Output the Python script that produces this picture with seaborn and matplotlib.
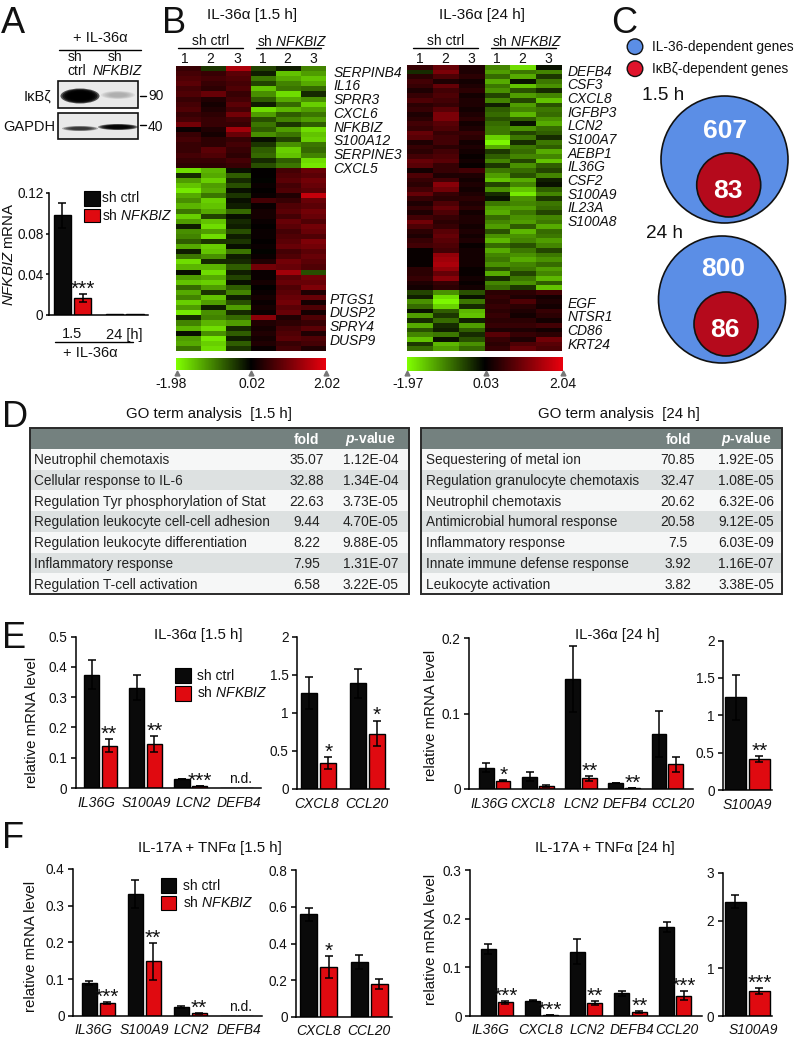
import numpy as np
import pandas as pd
import matplotlib
matplotlib.use('Agg')
import matplotlib.pyplot as plt
import seaborn as sns
from matplotlib.colors import LinearSegmentedColormap
from matplotlib.patches import Rectangle, Circle, Ellipse

sns.set_style('white')
plt.rcParams['font.family'] = ['Liberation Sans', 'DejaVu Sans']
plt.rcParams['mathtext.fontset'] = 'custom'
plt.rcParams['mathtext.it'] = 'Liberation Sans:italic'
plt.rcParams['mathtext.rm'] = 'Liberation Sans'
plt.rcParams['mathtext.bf'] = 'Liberation Sans:bold:italic'

W, H = 796, 1046

# heatmap values, read row by row (ctrl 1-3, shNFKBIZ 1-3)
h15_rows = [
    [.5, -.4, 1.5, -.5, -.2, -1.0],
    [.6, .5, .8, -.2, -1.5, -1.2],
    [.7, .6, .7, -.9, -1.3, -1.5],
    [.8, .5, .6, -.5, -1.0, -1.3],
    [.6, .4, .7, -1.5, -.9, -.8],
    [.7, .9, .5, -1.1, -1.7, -.3],
    [.5, .3, .6, -.7, -1.3, -1.1],
    [.6, .2, .8, -.2, -.8, -1.6],
    [.7, .3, .6, -1.7, -1.4, -1.2],
    [.5, .4, 1.0, -1.2, -.7, -.9],
    [.6, .5, .6, -.6, -1.0, -1.2],
    [1.0, .5, .5, -.9, -.4, -.7],
    [.1, .3, 1.4, -.7, -1.2, -1.7],
    [.5, .2, .9, -1.1, -.9, -1.5],
    [.6, .4, .5, -.1, -.5, -1.6],
    [.5, .4, .6, -.4, -1.1, -.9],
    [.5, .8, .5, -.7, -1.6, -.8],
    [.6, .7, .4, -.8, -1.5, -1.0],
    [.5, .5, .6, -.3, -.7, -1.7],
    [.4, .4, .5, -.6, -.9, -1.8],
    [-1.7, -1.4, -.1, .05, .6, .9],
    [-.3, -1.3, -.7, .05, .7, .8],
    [-1.2, -1.6, -.3, .0, .8, 1.0],
    [-1.5, -1.2, -.6, .1, .6, .9],
    [-1.8, -1.3, -.1, .05, .7, .8],
    [-1.3, -.9, -.4, .1, .3, 1.7],
    [-1.1, -1.6, -.1, .6, .5, .9],
    [-1.4, -1.5, -.2, .1, .7, .8],
    [-.9, -1.3, -.8, .2, .8, 1.0],
    [-1.6, -.5, -.1, .2, .6, .9],
    [-1.2, -1.5, -.3, .1, .9, .7],
    [-.2, -1.7, -.2, .05, .8, 1.0],
    [-1.1, -1.2, -.6, .1, .6, .9],
    [-1.0, -1.7, -.2, .1, .7, .7],
    [-.7, -.4, -.4, .05, .8, 1.1],
    [-1.3, -1.6, -.1, .1, .9, 1.0],
    [-.2, -1.5, -.9, .0, .6, .8],
    [-.9, -1.1, -.2, .1, .7, .9],
    [-1.7, -.3, -.3, .3, 1.0, .8],
    [-1.4, -1.4, -.7, 1.0, .9, .7],
    [-.1, -1.7, -.2, .1, 1.4, -.6],
    [-1.2, -1.3, -.5, .1, .8, 1.0],
    [-1.5, -1.6, -.1, .2, .9, .9],
    [-.8, -1.2, -.7, .05, .7, 1.1],
    [-1.3, -.4, -1.0, .1, .8, .3],
    [-1.0, -1.5, -.2, .2, .9, .9],
    [-1.6, -1.2, -.6, .1, 1.0, .2],
    [-1.2, -.2, -1.2, .2, .8, .7],
    [-1.8, -1.1, -.3, .1, .9, .2],
    [-.3, -1.0, -.8, 1.2, .3, .7],
    [-1.0, -1.4, -1.2, .3, .4, .5],
    [-1.4, -1.7, -.3, .2, .6, .8],
    [-.1, -1.1, -.7, .3, .7, .3],
    [-1.2, -1.8, -.2, .2, .8, .7],
    [-1.3, -1.6, -.7, .3, .5, .6],
    [-.9, -1.7, -.4, .1, .6, .3],
]

h24_rows = [
    [.5, .9, .3, -1.0, -1.7, -.1],
    [-.3, 1.1, .3, -1.2, -.9, -1.0],
    [.4, .7, .4, -.8, -1.3, -.4],
    [.6, .3, .2, -1.3, -.1, -.9],
    [.5, .9, .3, -.9, -1.5, -1.1],
    [.3, .6, .4, -1.1, -.6, -.3],
    [.5, .7, .2, -.5, -1.2, -1.0],
    [.7, .6, .3, -1.0, -.5, -1.5],
    [.4, .5, .3, -.2, -1.2, -.6],
    [.5, .8, .2, -.7, -1.0, -.9],
    [.3, 1.1, .3, -.8, -1.4, -.8],
    [.4, 1.1, .4, -.6, -.7, -1.1],
    [.6, .8, .2, -.8, -.1, -1.3],
    [.5, .7, .3, -.9, -1.1, -.8],
    [.9, .5, .5, -.9, -.5, -.7],
    [.8, .6, .4, -1.6, -.9, -.3],
    [.3, .6, .2, -1.9, -.3, -.9],
    [.5, .4, .3, -1.3, -.9, -.7],
    [.4, .6, .2, -.4, -.8, -1.3],
    [.6, .7, .1, -.7, -1.0, -1.0],
    [.9, .8, .2, -1.0, -.5, -1.5],
    [.8, .5, .1, -.4, -1.1, -.7],
    [.2, .5, .6, -.9, -.8, -.5],
    [.7, .3, .3, -1.2, -.6, -1.0],
    [.5, .6, .2, -1.5, -1.3, -.2],
    [.4, 1.2, .3, -.5, -1.0, -.1],
    [.6, 1.0, .2, -1.1, -1.5, -.7],
    [.9, .5, .3, -.3, -1.8, -1.0],
    [.5, .4, .4, -.1, -1.1, -.4],
    [.3, .7, .3, -.9, -1.0, -.9],
    [.5, .9, .4, -1.2, -1.2, -.8],
    [.3, .7, .2, -1.3, -.9, -.5],
    [.6, .5, .3, -.8, -1.1, -1.0],
    [1.0, .4, .3, -1.0, -1.2, -.9],
    [.7, .5, .2, -1.2, -.7, -1.3],
    [.4, .8, .3, -.6, -1.4, -.8],
    [.3, .9, .2, -1.1, -1.1, -.9],
    [.5, .8, .3, -1.4, -1.0, -1.2],
    [.6, .7, .1, -.8, -.6, -1.0],
    [.1, .6, .2, -1.3, -.9, -.5],
    [.1, 1.3, .2, -1.0, -1.1, -.9],
    [.1, 1.4, .2, -.9, -1.3, -1.1],
    [.1, 1.5, .2, -1.1, -1.0, -.8],
    [.4, 1.3, .1, -.6, -.9, -1.2],
    [.4, .9, .1, -1.3, -.5, -1.0],
    [.5, 1.2, .2, -.3, -.9, -1.4],
    [.3, .5, .1, -1.0, -1.1, -.7],
    [.2, .4, .2, -.8, -.4, -1.5],
    [-.5, -1.1, -.6, .4, .4, .6],
    [-.2, -1.7, -.1, .5, .3, .2],
    [-1.1, -1.9, -.9, .4, .7, .3],
    [-.8, -1.6, -.3, .5, .4, .2],
    [-.1, -.7, -1.4, .4, .3, .5],
    [-1.2, -.4, -1.5, .5, .2, .4],
    [-.3, -.8, -.2, .4, .4, .2],
    [-1.3, -.3, -1.2, .5, .5, .6],
    [-.6, -.2, -.7, .3, .3, .2],
    [-1.0, -.9, -.3, .8, .5, .4],
    [-1.5, -.1, -.6, .5, .3, 1.0],
    [-.4, -1.4, -1.1, .4, .7, .8],
    [-.8, -1.2, -.8, .5, .9, .7],
]

h15_scale = [-1.98, 0.02, 2.02]
h24_scale = [-1.97, 0.03, 2.04]
h15_genes_up = ['SERPINB4', 'IL16', 'SPRR3', 'CXCL6', 'NFKBIZ', 'S100A12', 'SERPINE3', 'CXCL5']
h15_genes_down = ['PTGS1', 'DUSP2', 'SPRY4', 'DUSP9']
h24_genes_up = ['DEFB4', 'CSF3', 'CXCL8', 'IGFBP3', 'LCN2', 'S100A7', 'AEBP1', 'IL36G',
                'CSF2', 'S100A9', 'IL23A', 'S100A8']
h24_genes_down = ['EGF', 'NTSR1', 'CD86', 'KRT24']

go_15_terms = ['Neutrophil chemotaxis', 'Cellular response to IL-6',
               'Regulation Tyr phosphorylation of Stat', 'Regulation leukocyte cell-cell adhesion',
               'Regulation leukocyte differentiation', 'Inflammatory response',
               'Regulation T-cell activation']
go_15_fold = ['35.07', '32.88', '22.63', '9.44', '8.22', '7.95', '6.58']
go_15_p = ['1.12E-04', '1.34E-04', '3.73E-05', '4.70E-05', '9.88E-05', '1.31E-07', '3.22E-05']
go_24_terms = ['Sequestering of metal ion', 'Regulation granulocyte chemotaxis',
               'Neutrophil chemotaxis', 'Antimicrobial humoral response',
               'Inflammatory response', 'Innate immune defense response', 'Leukocyte activation']
go_24_fold = ['70.85', '32.47', '20.62', '20.58', '7.5', '3.92', '3.82']
go_24_p = ['1.92E-05', '1.08E-05', '6.32E-06', '9.12E-05', '6.03E-09', '1.16E-07', '3.38E-05']

# qPCR bars
a_times = ['1.5', '24 [h]']
a_ctrl, a_ctrl_err = [.098, .001], [.012, 0]
a_kd, a_kd_err = [.017, .001], [.004, 0]
a_stars = ['***', '']

e1_genes = ['IL36G', 'S100A9', 'LCN2', 'DEFB4']
e1_ctrl, e1_ctrl_err = [.375, .332, .03, 0], [.047, .04, .001, 0]
e1_kd, e1_kd_err = [.14, .145, .006, 0], [.022, .027, .001, 0]
e1_stars = ['**', '**', '***', '']

e2_genes = ['CXCL8', 'CCL20']
e2_ctrl, e2_ctrl_err = [1.26, 1.39], [.21, .19]
e2_kd, e2_kd_err = [.34, .73], [.08, .17]
e2_stars = ['*', '*']

e3_genes = ['IL36G', 'CXCL8', 'LCN2', 'DEFB4', 'CCL20']
e3_ctrl, e3_ctrl_err = [.028, .016, .146, .008, .073], [.006, .006, .044, .0005, .03]
e3_kd, e3_kd_err = [.011, .004, .014, .001, .033], [.001, .001, .003, .0002, .01]
e3_stars = ['*', '', '**', '**', '']

e4_genes = ['S100A9']
e4_ctrl, e4_ctrl_err = [1.24], [.3]
e4_kd, e4_kd_err = [.41], [.04]
e4_stars = ['**']

f1_genes = ['IL36G', 'S100A9', 'LCN2', 'DEFB4']
f1_ctrl, f1_ctrl_err = [.09, .332, .023, 0], [.005, .038, .003, 0]
f1_kd, f1_kd_err = [.034, .148, .006, 0], [.002, .05, .001, 0]
f1_stars = ['***', '**', '**', '']

f2_genes = ['CXCL8', 'CCL20']
f2_ctrl, f2_ctrl_err = [.56, .30], [.035, .04]
f2_kd, f2_kd_err = [.27, .18], [.06, .025]
f2_stars = ['*', '']

f3_genes = ['IL36G', 'CXCL8', 'LCN2', 'DEFB4', 'CCL20']
f3_ctrl, f3_ctrl_err = [.137, .031, .132, .047, .183], [.01, .001, .026, .005, .011]
f3_kd, f3_kd_err = [.028, .002, .027, .009, .042], [.003, .0003, .004, .002, .009]
f3_stars = ['***', '***', '**', '**', '***']

f4_genes = ['S100A9']
f4_ctrl, f4_ctrl_err = [2.4], [.14]
f4_kd, f4_kd_err = [.52], [.06]
f4_stars = ['***']

BLACK = '#0a0a0a'
RED = '#e00a10'
heat_cmap = LinearSegmentedColormap.from_list('gbr', ['#80ff00', '#000000', '#e8000d'])

fig = plt.figure(figsize=(W / 100, H / 100), dpi=100)


def px_axes(x0, y0, x1, y1, **kw):
    return fig.add_axes([x0 / W, 1 - y1 / H, (x1 - x0) / W, (y1 - y0) / H], **kw)


# overlay in pixel coordinates for labels, tables, blot and circles
top = px_axes(0, 0, W, H, zorder=10)
top.set_xlim(0, W)
top.set_ylim(H, 0)
top.axis('off')
top.patch.set_visible(False)


def label(x, y, s, size=10, ha='center', va='center', **kw):
    top.text(x, y, s, fontsize=size, ha=ha, va=va, color=kw.pop('color', '#111111'), **kw)


def bar_panel(box, names, ctrl, ctrl_err, kd, kd_err, stars, ymax, ticks, ticklabels,
              shift=None, label_size=10, pad=6):
    ax = px_axes(*box)
    n = len(names)
    df = pd.DataFrame({'gene': names * 2,
                       'group': ['sh ctrl'] * n + ['sh NFKBIZ'] * n,
                       'value': ctrl + kd})
    sns.barplot(data=df, x='gene', y='value', hue='group', palette=[BLACK, RED], saturation=1,
                width=.78, gap=.14, edgecolor='black', linewidth=1, errorbar=None,
                legend=False, ax=ax)
    for cont, vals, errs in zip(ax.containers, (ctrl, kd), (ctrl_err, kd_err)):
        for bar, v, e in zip(cont, vals, errs):
            if e > 0:
                ax.errorbar(bar.get_x() + bar.get_width() / 2, v, yerr=e, fmt='none',
                            ecolor='black', elinewidth=1.1, capsize=2.6, capthick=1.1)
    for bar, v, e, s in zip(ax.containers[1], kd, kd_err, stars):
        if s:
            ax.annotate(s, (bar.get_x() + bar.get_width() / 2, v + e), xytext=(0, -.5),
                        textcoords='offset points', ha='center', va='baseline',
                        fontsize=15, color='#111111', annotation_clip=False)
    ax.set_ylim(0, ymax)
    ax.set_yticks(ticks)
    ax.set_yticklabels(ticklabels, fontsize=9.8, color='#111111')
    offs = np.arange(n) if shift is None else np.arange(n) + np.array(shift) * n / (box[2] - box[0])
    ax.set_xticks(offs)
    ax.set_xticklabels(names, fontsize=label_size, style='italic', color='#111111')
    ax.tick_params(axis='y', length=3.5, width=1.1, pad=2.5, left=True, color='black')
    ax.tick_params(axis='x', length=0, pad=pad)
    ax.set_xlabel('')
    ax.set_ylabel('')
    ax.patch.set_visible(False)
    sns.despine(ax=ax)
    for side in ('left', 'bottom'):
        ax.spines[side].set_linewidth(1.1)
        ax.spines[side].set_color('black')
    return ax


def legend_block(x, y_black, y_red, tx, ty_black, ty_red):
    top.add_patch(Rectangle((x, y_black[0]), 15.5, y_black[1] - y_black[0], fc=BLACK, ec='black', lw=.8))
    top.add_patch(Rectangle((x, y_red[0]), 15.5, y_red[1] - y_red[0], fc=RED, ec='black', lw=.8))
    label(tx, ty_black, 'sh ctrl', ha='left')
    label(tx, ty_red, r'sh $\mathit{NFKBIZ}$', ha='left')


def band(cx, cy, w, h, color, alpha):
    for k in (1.0, .9, .8, .7, .6, .5):
        top.add_patch(Ellipse((cx, cy), w * k, h * k, fc=color, ec='none', alpha=alpha))


# panel letters
for x, y, s in [(1, 33, 'A'), (162, 33, 'B'), (611, 33, 'C'), (2, 427, 'D'), (2, 648, 'E'), (2, 848, 'F')]:
    top.text(x, y, s, fontsize=26, ha='left', va='baseline', color='#111111')

# A: blot
label(100, 38, '+ IL-36\u03b1', 10.5)
top.plot([59, 141], [50, 50], color='black', lw=1)
label(75, 57, 'sh', 10)
label(76.5, 71, 'ctrl', 10)
label(115, 57, 'sh', 10)
label(117, 71, 'NFKBIZ', 10, style='italic')
for y0, y1 in [(81, 108), (113, 139)]:
    top.add_patch(Rectangle((58, y0), 80, y1 - y0, fc='#e9e9e9', ec='#111111', lw=1.2))
band(80, 96, 39, 15, '#000000', .65)
band(118, 95, 34, 8, '#999999', .18)
band(80, 128.5, 36, 5, '#222222', .3)
band(118, 127, 40, 6, '#000000', .45)
label(51.5, 96.5, 'I\u03baB\u03b6', 10.5, ha='right')
label(55, 127, 'GAPDH', 10.5, ha='right')
top.plot([140, 146], [96, 96], color='black', lw=1)
top.plot([140, 146], [125, 125], color='black', lw=1)
label(148, 96.5, '90', 10, ha='left')
label(148, 127, '40', 10, ha='left')

# A: bars
ax_a = bar_panel((49, 193, 148, 315), a_times, a_ctrl, a_ctrl_err, a_kd, a_kd_err, a_stars,
                 .12, [0, .04, .08, .12], ['0', '0.04', '0.08', '0.12'], label_size=10.5, pad=9)
ax_a.tick_params(axis='y', length=2.5, pad=1.5)
for t in ax_a.get_xticklabels():
    t.set_style('normal')
label(9.5, 254, r'$\mathit{NFKBIZ}$ mRNA', 10.8, rotation=90)
legend_block(84, (191, 206), (209, 222), 102, 198, 216)
top.plot([55, 133], [341.5, 341.5], color='black', lw=1)
label(90.5, 353, '+ IL-36\u03b1', 10.5)


# B: heatmaps
def heat_panel(rows, scale, box, cbox):
    ax = px_axes(*box)
    cax = px_axes(*cbox)
    df = pd.DataFrame(rows, columns=['c1', 'c2', 'c3', 's1', 's2', 's3'])
    sns.heatmap(df, cmap=heat_cmap, vmin=scale[0], vmax=scale[2], ax=ax, cbar_ax=cax,
                cbar_kws={'orientation': 'horizontal'}, xticklabels=False, yticklabels=False)
    cb = ax.collections[0].colorbar
    cb.outline.set_visible(False)
    cax.set_xticks([])
    ax.set_xlabel('')
    ax.set_ylabel('')


heat_panel(h15_rows, h15_scale, (176, 66, 326, 351), (176, 358, 326, 370))
heat_panel(h24_rows, h24_scale, (407, 65, 562, 351), (407, 357, 562.5, 371))

label(252, 15, 'IL-36\u03b1 [1.5 h]', 11)
label(482, 14.5, 'IL-36\u03b1 [24 h]', 11)
for cx, lx0, lx1, s in [(211, 178, 243, 'sh ctrl'), (292, 256, 321, r'sh $\mathit{NFKBIZ}$'),
                        (446, 413, 478, 'sh ctrl'), (527, 491, 556, r'sh $\mathit{NFKBIZ}$')]:
    label(cx, 41, s, 10)
    top.plot([lx0, lx1], [47.5, 47.5], color='black', lw=1)
for x, s in zip([185, 210, 237, 263, 287, 313, 420, 445, 471, 497, 522, 548], '123123123123'):
    label(x, 59, s, 10)

for i, g in enumerate(h15_genes_up):
    label(333.5, 72.7 + i * 13.72, g, 10, ha='left', style='italic')
for i, g in enumerate(h15_genes_down):
    label(329.5, 299.5 + i * 13.9, g, 10, ha='left', style='italic')
for i, g in enumerate(h24_genes_up):
    label(567.5, 71.5 + i * 13.67, g, 10, ha='left', style='italic')
for i, g in enumerate(h24_genes_down):
    label(567.5, 303.5 + i * 13.8, g, 10, ha='left', style='italic')

for xs, texts, text_x in [([176.5, 251, 326], h15_scale, [171, 252, 327]),
                          ([407, 486, 562.5], h24_scale, [408, 486, 563])]:
    top.plot(xs, [372.5] * 3, ls='none', marker='^', ms=3.5, color='#777777')
    for tx, v in zip(text_x, texts):
        label(tx, 383.5, f'{v:.2f}', 10)

# C: circles
BLUE = '#5b8ee6'
CRIM = '#b50a1c'
top.add_patch(Circle((635, 46.7), 7.8, fc=BLUE, ec='#111111', lw=1))
top.add_patch(Circle((635, 68.7), 7.8, fc='#e0142c', ec='#111111', lw=1))
label(651.5, 47, 'IL-36-dependent genes', 9.8, ha='left')
label(651.5, 69, 'I\u03baB\u03b6-dependent genes', 9.8, ha='left')
label(642, 95, '1.5 h', 13.7, ha='left')
label(646.5, 233, '24 h', 13.7, ha='left')
for (bx, by), (sx, sy), (n1, y1, x1), (n2, y2, x2) in [
        ((724.5, 159.5), (728.7, 185), ('607', 130.7, 725), ('83', 190.7, 728)),
        ((722, 299.5), (726, 324), ('800', 269, 723), ('86', 330, 725))]:
    top.add_patch(Circle((bx, by), 63.5, fc=BLUE, ec='#111111', lw=1.2))
    top.add_patch(Circle((sx, sy), 32, fc=CRIM, ec='#111111', lw=1.2))
    label(x1, y1, n1, 19, color='white', fontweight='bold')
    label(x2, y2, n2, 19, color='white', fontweight='bold')


# D: GO tables
def go_table(x0, x1, text_x, fold_x, p_x, terms, fold, pvals, title, title_x):
    y0, y_head, row_h = 428, 449, 20.7
    label(title_x, 414, title, 10.8)
    top.add_patch(Rectangle((x0, y0), x1 - x0, y_head - y0, fc='#74817f', ec='none'))
    for i in range(len(terms)):
        top.add_patch(Rectangle((x0, y_head + i * row_h), x1 - x0, row_h,
                                fc='#dde1e1' if i % 2 else '#f6f7f7', ec='none'))
        yc = y_head + (i + .55) * row_h
        label(text_x, yc, terms[i], 9.8, ha='left', color='#222222')
        label(fold_x, yc, fold[i], 9.9, color='#222222')
        label(p_x, yc, pvals[i], 9.9, color='#222222')
    top.add_patch(Rectangle((x0, y0), x1 - x0, 594 - y0, fc='none', ec='#2a2a2a', lw=1.4))
    label(fold_x, 439.5, 'fold', 10, color='white', fontweight='bold')
    label(p_x, 439.5, r'$\mathbf{p}$-value', 10, color='white', fontweight='bold')


go_table(29.5, 409, 34, 306.7, 370.7, go_15_terms, go_15_fold, go_15_p, 'GO term analysis  [1.5 h]', 208.7)
go_table(421, 782, 425.7, 678, 746, go_24_terms, go_24_fold, go_24_p, 'GO term analysis  [24 h]', 618.8)

# E
bar_panel((75.5, 636.7, 261, 788), e1_genes, e1_ctrl, e1_ctrl_err, e1_kd, e1_kd_err, e1_stars,
          .5, [0, .1, .2, .3, .4, .5], ['0', '0.1', '0.2', '0.3', '0.4', '0.5'], shift=[-4.5, 1, 3, 3])
bar_panel((297, 637, 389, 789), e2_genes, e2_ctrl, e2_ctrl_err, e2_kd, e2_kd_err, e2_stars,
          2, [0, .5, 1, 1.5, 2], ['0', '0.5', '1', '1.5', '2'], shift=[-2, 0])
bar_panel((469, 638, 693, 789), e3_genes, e3_ctrl, e3_ctrl_err, e3_kd, e3_kd_err, e3_stars,
          .2, [0, .1, .2], ['0', '0.1', '0.2'], shift=[-6, -6, 0, 1, 6])
bar_panel((723, 640.5, 772, 790), e4_genes, e4_ctrl, e4_ctrl_err, e4_kd, e4_kd_err, e4_stars,
          2, [0, .5, 1, 1.5, 2], ['0', '0.5', '1', '1.5', '2'])
label(32, 722, 'relative mRNA level', 10.8, rotation=90)
label(430.7, 715, 'relative mRNA level', 10.8, rotation=90)
label(198.7, 635, 'IL-36\u03b1 [1.5 h]', 10.8)
label(617, 635, 'IL-36\u03b1 [24 h]', 10.8)
legend_block(175, (668, 683), (686, 700.5), 197, 676, 692.7)
label(241, 779, 'n.d.', 10)

# F
bar_panel((73, 869, 261.5, 1015.7), f1_genes, f1_ctrl, f1_ctrl_err, f1_kd, f1_kd_err, f1_stars,
          .4, [0, .1, .2, .3, .4], ['0', '0.1', '0.2', '0.3', '0.4'], shift=[-5, 0, 1, 3], pad=5)
bar_panel((296, 870, 392, 1017), f2_genes, f2_ctrl, f2_ctrl_err, f2_kd, f2_kd_err, f2_stars,
          .8, [0, .2, .4, .6, .8], ['0', '0.2', '0.4', '0.6', '0.8'], pad=5)
bar_panel((470, 870, 702, 1016), f3_genes, f3_ctrl, f3_ctrl_err, f3_kd, f3_kd_err, f3_stars,
          .3, [0, .1, .2, .3], ['0', '0.1', '0.2', '0.3'], shift=[-7, -1, 1, 1, 2], pad=5)
bar_panel((722.7, 873, 772, 1016), f4_genes, f4_ctrl, f4_ctrl_err, f4_kd, f4_kd_err, f4_stars,
          3, [0, 1, 2, 3], ['0', '1', '2', '3'], shift=[5], pad=5)
label(30.7, 946, 'relative mRNA level', 10.8, rotation=90)
label(430.7, 939, 'relative mRNA level', 10.8, rotation=90)
label(209.7, 848, 'IL-17A + TNF\u03b1 [1.5 h]', 10.8)
label(605, 848, 'IL-17A + TNF\u03b1 [24 h]', 10.8)
legend_block(160.7, (878, 892.7), (896, 910), 182.7, 885.7, 902.7)
label(240.7, 1006.7, 'n.d.', 10)

fig.savefig('out.png', dpi=100)
